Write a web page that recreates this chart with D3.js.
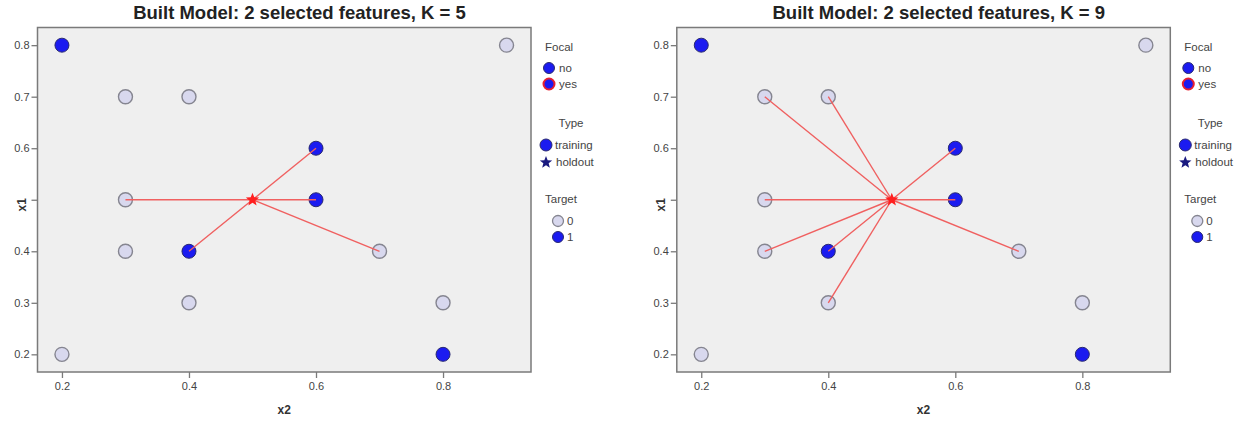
<!DOCTYPE html>
<html>
<head>
<meta charset="utf-8">
<script src="https://cdn.jsdelivr.net/npm/d3@7"></script>
<style>
  body { margin: 0; background: #fff; }
  text { font-family: "Liberation Sans", Arial, sans-serif; }
</style>
</head>
<body>
<svg id="chart" width="1252" height="442"></svg>
<script>
// training records (x2 horizontal, x1 vertical) and their target
var x2Values = [0.2, 0.9, 0.3, 0.4, 0.6, 0.3, 0.6, 0.3, 0.4, 0.7, 0.4, 0.8, 0.2, 0.8];
var x1Values = [0.8, 0.8, 0.7, 0.7, 0.6, 0.5, 0.5, 0.4, 0.4, 0.4, 0.3, 0.3, 0.2, 0.2];
var targetValues = [1, 0, 0, 0, 1, 0, 1, 0, 1, 0, 0, 0, 0, 1];

// the focal holdout record
var holdoutX2 = [0.5];
var holdoutX1 = [0.5];

// one panel per K, with the indexes of the nearest neighbours
var panelK = [5, 9];
var neighborsK5 = [5, 4, 6, 8, 9];
var neighborsK9 = [2, 3, 5, 7, 8, 10, 4, 6, 9];
var panelNeighbors = [neighborsK5, neighborsK9];

var xTicks = [0.2, 0.4, 0.6, 0.8];
var yTicks = [0.2, 0.3, 0.4, 0.5, 0.6, 0.7, 0.8];

var cfg = {
	frame: { left: 37.5, right: 531, top: 27.5, bottom: 372 },
	panelOffset: 639.3,
	colors: { one: "#1b1bf0", oneStroke: "#2a2a70", zero: "#d8d8ee", zeroStroke: "#858590",
		bg: "#efefef", frame: "#7a7a7a", link: "#f06060", star: "#ff1f1f", navy: "#1a1a80", text: "#444" },
	r: 7
};

var svg = d3.select("#chart");

function starPath(cx, cy, outer, inner){
	var pts = [];
	for (var i = 0; i < 10; i++){
		var a = -Math.PI/2 + i*Math.PI/5;
		var rr = (i % 2 == 0) ? outer : inner;
		pts.push([cx + rr*Math.cos(a), cy + rr*Math.sin(a)]);
	}
	return "M" + pts.join("L") + "Z";
}

function drawPanel(p){
	var g = svg.append("g").attr("transform", "translate(" + (p*cfg.panelOffset) + ",0)");
	var f = cfg.frame;

	var x = d3.scaleLinear().domain([0.1615, 0.9385]).range([f.left, f.right]);
	var y = d3.scaleLinear().domain([0.1657, 0.8343]).range([f.bottom, f.top]);

	g.append("rect")
		.attr("x", f.left).attr("y", f.top)
		.attr("width", f.right - f.left).attr("height", f.bottom - f.top)
		.attr("fill", cfg.colors.bg)
		.attr("stroke", cfg.colors.frame)
		.attr("stroke-width", 1.5);

	var xAxis = g.append("g")
		.attr("transform", "translate(0," + f.bottom + ")")
		.call(d3.axisBottom(x).tickValues(xTicks).tickSize(6).tickPadding(4).tickFormat(d3.format(".1f")));
	// the x1 title sits where the 0.5 label would be, as in the original
	var yAxis = g.append("g")
		.attr("transform", "translate(" + f.left + ",0)")
		.call(d3.axisLeft(y).tickValues(yTicks).tickSize(6).tickPadding(2)
			.tickFormat(function(d){ return d == 0.5 ? "" : d3.format(".1f")(d); }));
	[xAxis, yAxis].forEach(function(a){
		a.select(".domain").remove();
		a.selectAll("line").attr("stroke", cfg.colors.frame).attr("stroke-width", 1.3);
		a.selectAll("text").attr("fill", cfg.colors.text).attr("font-size", "11px")
			.attr("font-family", "Liberation Sans, Arial, sans-serif");
	});

	g.append("text")
		.attr("x", 299.5).attr("y", 19)
		.attr("text-anchor", "middle")
		.attr("font-size", "18.5px").attr("font-weight", 700).attr("fill", "#222")
		.text("Built Model: 2 selected features, K = " + panelK[p]);

	g.append("text")
		.attr("x", (f.left + f.right)/2).attr("y", 414)
		.attr("text-anchor", "middle")
		.attr("font-size", "12px").attr("font-weight", 700).attr("fill", "#333")
		.text("x2");

	g.append("text")
		.attr("transform", "translate(26," + ((f.top + f.bottom)/2 + 5) + ") rotate(-90)")
		.attr("text-anchor", "middle")
		.attr("font-size", "12px").attr("font-weight", 700).attr("fill", "#333")
		.text("x1");

	var idx = d3.range(x2Values.length);

	g.selectAll(".pt")
		.data(idx)
		.enter()
		.append("circle")
			.attr("class", "pt")
			.attr("cx", function(i){ return x(x2Values[i]); })
			.attr("cy", function(i){ return y(x1Values[i]); })
			.attr("r", cfg.r)
			.attr("fill", function(i){ return targetValues[i] ? cfg.colors.one : cfg.colors.zero; })
			.attr("stroke", function(i){ return targetValues[i] ? cfg.colors.oneStroke : cfg.colors.zeroStroke; })
			.attr("stroke-width", function(i){ return targetValues[i] ? 1 : 1.4; });

	g.selectAll(".link")
		.data(panelNeighbors[p])
		.enter()
		.append("line")
			.attr("class", "link")
			.attr("x1", x(holdoutX2[0])).attr("y1", y(holdoutX1[0]))
			.attr("x2", function(i){ return x(x2Values[i]); })
			.attr("y2", function(i){ return y(x1Values[i]); })
			.attr("stroke", cfg.colors.link)
			.attr("stroke-width", 1.4);

	g.append("path")
		.attr("d", starPath(x(holdoutX2[0]), y(holdoutX1[0]), 7, 3))
		.attr("fill", cfg.colors.star);

	// legend
	var lg = g.append("g").attr("font-size", "11.5px").attr("fill", cfg.colors.text);
	var lx = 545;
	lg.append("text").attr("x", lx).attr("y", 51).attr("fill", cfg.colors.text).text("Focal");
	lg.append("circle").attr("cx", 549).attr("cy", 68).attr("r", 5.5)
		.attr("fill", cfg.colors.one).attr("stroke", cfg.colors.oneStroke).attr("stroke-width", 1);
	lg.append("text").attr("x", 559).attr("y", 72).attr("fill", cfg.colors.text).text("no");
	lg.append("circle").attr("cx", 549).attr("cy", 84).attr("r", 5.5)
		.attr("fill", cfg.colors.one).attr("stroke", "#e82030").attr("stroke-width", 2);
	lg.append("text").attr("x", 559).attr("y", 88).attr("fill", cfg.colors.text).text("yes");

	lg.append("text").attr("x", 571).attr("y", 127).attr("text-anchor", "middle")
		.attr("fill", cfg.colors.text).text("Type");
	lg.append("circle").attr("cx", 546).attr("cy", 145).attr("r", 6)
		.attr("fill", cfg.colors.one).attr("stroke", cfg.colors.oneStroke).attr("stroke-width", 1);
	lg.append("text").attr("x", 555).attr("y", 149).attr("fill", cfg.colors.text).text("training");
	lg.append("path").attr("d", starPath(546, 162.5, 6.5, 2.8)).attr("fill", cfg.colors.navy);
	lg.append("text").attr("x", 556).attr("y", 166).attr("fill", cfg.colors.text).text("holdout");

	lg.append("text").attr("x", lx).attr("y", 203).attr("fill", cfg.colors.text).text("Target");
	lg.append("circle").attr("cx", 558).attr("cy", 221).attr("r", 5.5)
		.attr("fill", cfg.colors.zero).attr("stroke", cfg.colors.zeroStroke).attr("stroke-width", 1.3);
	lg.append("text").attr("x", 567).attr("y", 225).attr("fill", cfg.colors.text).text("0");
	lg.append("circle").attr("cx", 558).attr("cy", 237).attr("r", 5.5)
		.attr("fill", cfg.colors.one).attr("stroke", cfg.colors.oneStroke).attr("stroke-width", 1);
	lg.append("text").attr("x", 567).attr("y", 241).attr("fill", cfg.colors.text).text("1");
}

panelK.forEach(function(k, p){ drawPanel(p); });
</script>
</body>
</html>
